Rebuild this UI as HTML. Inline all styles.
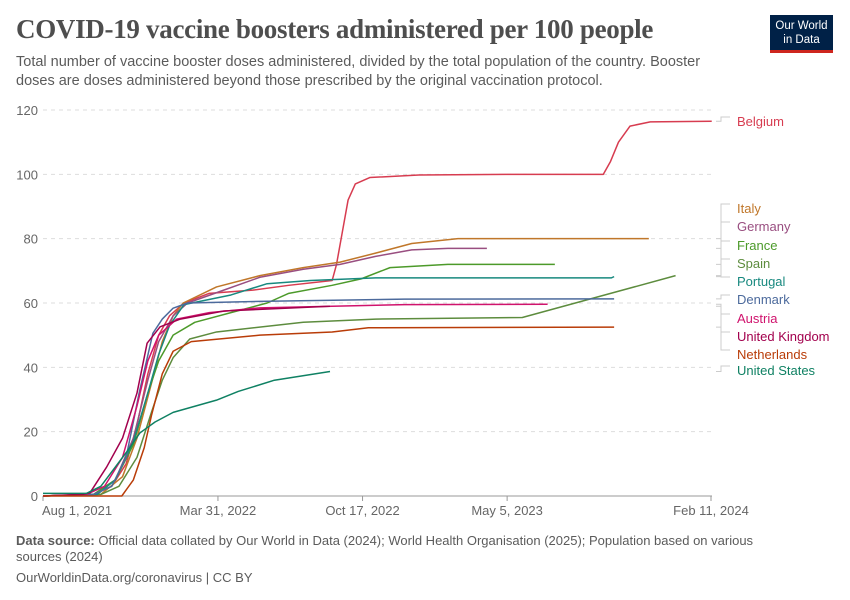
<!DOCTYPE html>
<html><head><meta charset="utf-8"><style>
body{margin:0;width:850px;height:600px;background:#fff;font-family:"Liberation Sans",sans-serif;overflow:hidden;position:relative}
.t{position:absolute;left:16px;top:14px;font-family:"Liberation Serif",serif;font-weight:bold;font-size:27px;color:#4e4e4e;letter-spacing:-0.3px}
.s{position:absolute;left:16px;top:53px;font-size:14.5px;color:#5b5b5b;line-height:19px;width:720px}
.logo{position:absolute;left:770px;top:15px;width:63px;height:38px;background:#002147;color:#fff;font-size:11.5px;line-height:14px;text-align:center;border-bottom:3px solid #ce261e;box-sizing:border-box;padding-top:4px}
.f{position:absolute;left:16px;font-size:13px;color:#5b5b5b;line-height:16px}
</style></head><body>
<div class="t">COVID-19 vaccine boosters administered per 100 people</div>
<div class="s">Total number of vaccine booster doses administered, divided by the total population of the country. Booster doses are doses administered beyond those prescribed by the original vaccination protocol.</div>
<div class="logo">Our World<br>in Data</div>
<svg id="c" width="850" height="600" style="position:absolute;left:0;top:0"></svg>
<div class="f" style="top:533px;width:780px"><b>Data source:</b> Official data collated by Our World in Data (2024); World Health Organisation (2025); Population based on various sources (2024)</div>
<div class="f" style="top:570px">OurWorldinData.org/coronavirus | CC BY</div>
<script>
const yTicks=[0,20,40,60,80,100,120];
const xTickDays=[0,242,442,642,924];
const xTickLabels=["Aug 1, 2021","Mar 31, 2022","Oct 17, 2022","May 5, 2023","Feb 11, 2024"];
const names=["Belgium","Italy","Germany","France","Spain","Portugal","Denmark","Austria","United Kingdom","Netherlands","United States"];
const colors=["#d73c50","#c0772a","#994e80","#4c9a2a","#5d8c3e","#18897f","#4c6a9c","#d0136d","#a2004d","#b93c08","#0f8163"];
const labelY=[122,209,227,246,264,282,300,319,337,355,371];
const sBelgium=[[0,0],[70,0.5],[95,3],[115,10],[130,22],[145,38],[160,50],[175,56],[195,60],[230,63],[290,64],[340,65.5],[400,67],[406,72],[414,82],[422,92],[432,97],[452,99],[520,99.8],[640,100],[775,100],[785,104],[796,110],[812,115],[840,116.3],[925,116.5]];
const sItaly=[[0,0],[80,0.5],[110,6],[130,18],[150,35],[165,48],[180,56],[194,60],[240,65],[300,68.5],[360,71],[411,72.7],[460,75.5],[510,78.5],[574,80],[838,80]];
const sGermany=[[0,0],[70,0.5],[100,5],[125,18],[145,36],[160,48],[180,56],[200,60],[250,64],[300,68],[360,70.5],[411,72],[460,74.5],[510,76.5],[560,77],[614,77]];
const sFrance=[[0,0],[70,0.5],[100,5],[125,16],[145,32],[160,42],[180,50],[210,54],[260,57],[310,60],[340,63],[400,65.5],[440,67.5],[480,71],[560,72],[708,72]];
const sSpain=[[0,0],[80,0.5],[105,3],[130,12],[150,26],[165,36],[180,43],[203,48.8],[240,51],[360,54],[460,55],[663,55.5],[875,68.5]];
const sPortugal=[[0,0],[75,0.5],[100,5],[125,17],[145,32],[160,44],[175,53],[195,59.5],[260,62.5],[310,66],[370,67],[460,67.8],[786,67.8],[790,68.2]];
const sDenmark=[[0,0],[70,0.5],[95,3],[115,12],[133,32],[152,50.6],[165,55],[180,58.4],[200,60],[300,60.5],[500,61.2],[790,61.3]];
const sAustria=[[0,0],[60,0.5],[85,3],[110,12],[130,28],[145,42],[160,50],[185,55],[230,57],[300,58.5],[500,59.5],[698,59.6]];
const sUK=[[0,0],[55,0.5],[65,1],[88,9],[110,18],[130,32],[144,47.5],[162,52.6],[190,55],[250,57.5],[397,59]];
const sNetherlands=[[0,0],[109,0],[125,5],[140,15],[150,25],[165,38],[180,45],[205,48],[300,50],[400,51],[450,52.3],[790,52.5]];
const sUS=[[0,0.8],[60,0.8],[80,3],[100,9],[120,15],[134,19.6],[155,23],[180,26],[240,29.8],[270,32.5],[320,36],[397,38.7]];
const series=[sBelgium,sItaly,sGermany,sFrance,sSpain,sPortugal,sDenmark,sAustria,sUK,sNetherlands,sUS];
const X=d=>43+d*(668/924), Y=v=>496-v*(386/120);
const svg=document.getElementById('c'),NS="http://www.w3.org/2000/svg";
function mk(t,a){const e=document.createElementNS(NS,t);for(const k in a)e.setAttribute(k,a[k]);svg.appendChild(e);return e;}
yTicks.forEach(v=>{
 if(v>0){const l=mk('line',{x1:43,x2:712,y1:Y(v),y2:Y(v),stroke:'#ddd','stroke-dasharray':'4,4'});
 
 }
 const t=mk('text',{x:38,y:Y(v)+5,'text-anchor':'end','font-size':13,fill:'#666','font-family':'Liberation Sans'});t.textContent=v;
 
 
});
const ax=mk('line',{x1:43,x2:712,y1:496,y2:496,stroke:'#999'});


xTickDays.forEach((d,i)=>{
 mk('line',{x1:X(d),x2:X(d),y1:496,y2:501,stroke:'#999'});
 const t=mk('text',{x:X(d),y:515,'text-anchor':i==0?'start':'middle','font-size':13,fill:'#666','font-family':'Liberation Sans'});
 if(i==0)t.setAttribute('x',X(d)-1);
 t.textContent=xTickLabels[i];
 
 
});
series.forEach((s,i)=>{
 const p=mk('polyline',{points:s.map(q=>X(q[0])+','+Y(q[1])).join(' '),fill:'none',stroke:colors[i],'stroke-width':1.5,'stroke-linejoin':'round'});
 
 
 const last=s[s.length-1],ey=Y(last[1]),ly=labelY[i];
 mk('path',{d:`M716 ${ey} H721 V${ly-5} H730`,fill:'none',stroke:'#ccc','stroke-width':1});
 const t=mk('text',{x:737,y:ly+4,'font-size':13,fill:colors[i],'font-family':'Liberation Sans'});t.textContent=names[i];
 
 
});
</script>
</body></html>
